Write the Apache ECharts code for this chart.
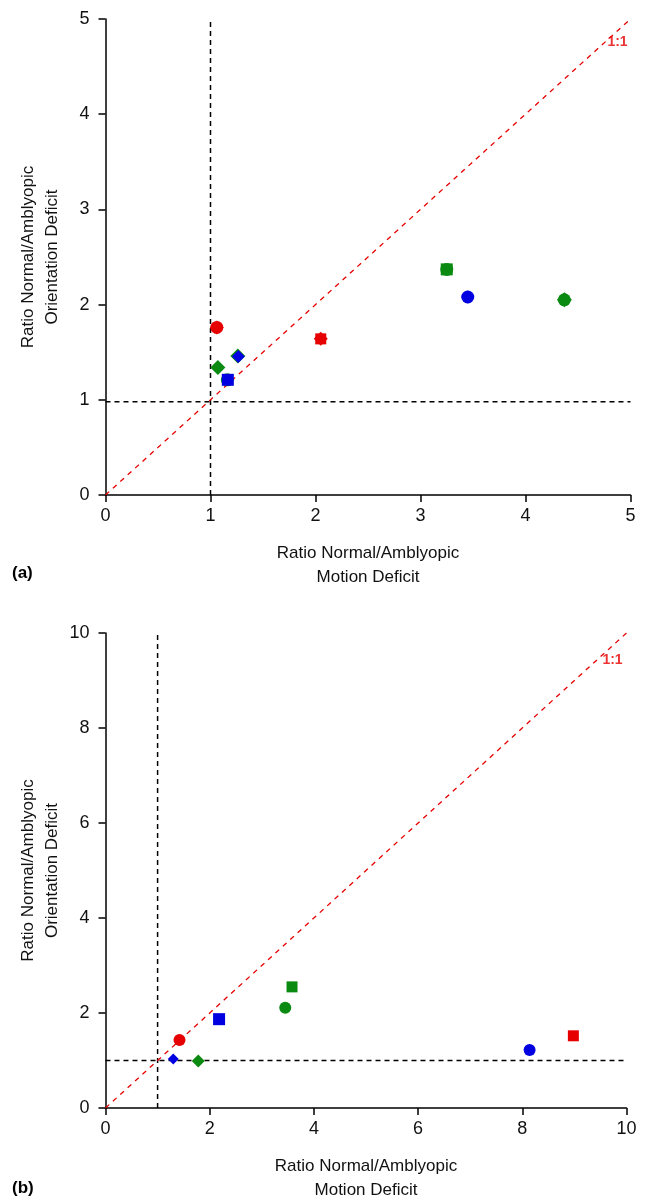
<!DOCTYPE html>
<html>
<head>
<meta charset="utf-8">
<script src="https://cdn.jsdelivr.net/npm/echarts@6/dist/echarts.min.js"></script>
<style>
  html, body { margin: 0; padding: 0; background: #fff; }
  #chart { width: 653px; height: 1203px; }
</style>
</head>
<body>
<div id="chart"></div>
<script>
// ---- Panel (a): motion vs orientation deficit ratios ----
const aRedCircle    = [[1.06, 1.76]];
const aRedDiamond   = [[1.06, 1.76], [2.05, 1.64]];
const aRedSquare    = [[2.05, 1.64]];
const aGreenCircle  = [[3.25, 2.37], [1.16, 1.21], [4.37, 2.05]];
const aGreenSquare  = [[3.25, 2.37]];
const aGreenDiamond = [[1.07, 1.34], [1.26, 1.46], [4.37, 2.05]];
const aBlueCircle   = [[3.45, 2.08]];
const aBlueDiamond  = [[3.45, 2.08], [1.265, 1.455]];
const aBlueSquare   = [[1.165, 1.21]];
const aTicks = [0, 1, 2, 3, 4, 5];
const aVLine = [[1, 0], [1, 5]];
const aHLine = [[0, 0.98], [5, 0.98]];
const aDiag  = [[0, 0], [5, 5]];

// ---- Panel (b) ----
const bRedCircle    = [[1.42, 1.43]];
const bRedSquare    = [[8.98, 1.52]];
const bGreenCircle  = [[3.45, 2.11]];
const bGreenSquare  = [[3.58, 2.55]];
const bGreenDiamond = [[1.78, 0.99]];
const bBlueCircle   = [[8.14, 1.22]];
const bBlueSquare   = [[2.18, 1.87]];
const bBlueDiamond  = [[1.30, 1.03]];
const bTicks = [0, 2, 4, 6, 8, 10];
const bVLine = [[1, 0], [1, 10]];
const bHLine = [[0, 1], [10, 1]];
const bDiag  = [[0, 0], [10, 10]];

const axisTitleX = 'Ratio Normal/Amblyopic\nMotion Deficit';
const axisTitleY = 'Ratio Normal/Amblyopic\nOrientation Deficit';
const unityLabel = '1:1';

const RED = '#e60000', GREEN = '#0b8a12', BLUE = '#0000e0';
const FONT = '"Liberation Sans", Arial, Helvetica, sans-serif';

function valueAxis(ticks, isX, gridIndex) {
  return {
    type: 'value',
    gridIndex: gridIndex,
    min: ticks[0],
    max: ticks[ticks.length - 1],
    interval: ticks[1] - ticks[0],
    name: isX ? axisTitleX : axisTitleY,
    nameLocation: 'middle',
    nameGap: isX ? 46 : 41,
    nameMoveOverlap: false,
    nameTextStyle: { fontFamily: FONT, fontSize: 17, color: '#111', lineHeight: 24, align: 'center' },
    axisLine: { show: true, onZero: false, lineStyle: { color: '#000', width: 1.5 } },
    axisTick: { show: true, inside: false, length: 7, lineStyle: { color: '#000', width: 1.5 } },
    axisLabel: { fontFamily: FONT, fontSize: 18, color: '#111', margin: isX ? 12 : 16 },
    splitLine: { show: false }
  };
}

function marks(data, shape, color, size, gi, z) {
  return {
    type: 'scatter', xAxisIndex: gi, yAxisIndex: gi, data: data,
    symbol: shape, symbolSize: size, z: z,
    itemStyle: { color: color, opacity: 1 },
    emphasis: { disabled: true }, silent: true
  };
}

function dashed(data, color, width, dash, gi) {
  return {
    type: 'line', xAxisIndex: gi, yAxisIndex: gi, data: data,
    showSymbol: false, symbol: 'none', z: 1, silent: true,
    lineStyle: { color: color, width: width, type: dash }
  };
}

function unity(point, gi, offset) {
  return {
    type: 'scatter', xAxisIndex: gi, yAxisIndex: gi, data: [point],
    symbolSize: 0, z: 2, silent: true,
    label: {
      show: true, formatter: unityLabel, position: offset,
      align: 'center', verticalAlign: 'middle',
      fontFamily: FONT, fontSize: 14, fontWeight: 'bold', color: RED
    }
  };
}

const chart = echarts.init(document.getElementById('chart'), null, { renderer: 'canvas' });
chart.setOption({
  animation: false,
  backgroundColor: '#fff',
  grid: [
    { left: 105.5, top: 19, width: 525, height: 476 },
    { left: 105.5, top: 633, width: 521, height: 475 }
  ],
  xAxis: [valueAxis(aTicks, true, 0), valueAxis(bTicks, true, 1)],
  yAxis: [valueAxis(aTicks, false, 0), valueAxis(bTicks, false, 1)],
  graphic: [
    { type: 'text', left: 12, top: 565, style: { text: '(a)', font: 'bold 17px ' + FONT, fill: '#000' } },
    { type: 'text', left: 12, top: 1180, style: { text: '(b)', font: 'bold 17px ' + FONT, fill: '#000' } }
  ],
  series: [
    dashed(aVLine, '#000', 1.5, [5, 4], 0),
    dashed(aHLine, '#000', 1.5, [5, 4], 0),
    dashed(aDiag, RED, 1.3, [5, 5], 0),
    unity(aDiag[1], 0, [-13, 23]),
    marks(aGreenCircle, 'circle', GREEN, 13, 0, 3),
    marks(aGreenSquare, 'rect', GREEN, 12, 0, 3),
    marks(aGreenDiamond, 'diamond', GREEN, 15, 0, 3),
    marks(aRedCircle, 'circle', RED, 13, 0, 4),
    marks(aRedSquare, 'rect', RED, 11, 0, 4),
    marks(aRedDiamond, 'diamond', RED, 14, 0, 4),
    marks(aBlueCircle, 'circle', BLUE, 13, 0, 5),
    marks(aBlueDiamond, 'diamond', BLUE, 13, 0, 5),
    marks(aBlueSquare, 'rect', BLUE, 12, 0, 5),

    dashed(bVLine, '#000', 1.5, [5, 4], 1),
    dashed(bHLine, '#000', 1.5, [5, 4], 1),
    dashed(bDiag, RED, 1.3, [5, 5], 1),
    unity(bDiag[1], 1, [-14, 27]),
    marks(bRedCircle, 'circle', RED, 12, 1, 4),
    marks(bRedSquare, 'rect', RED, 11, 1, 4),
    marks(bGreenCircle, 'circle', GREEN, 12, 1, 4),
    marks(bGreenSquare, 'rect', GREEN, 11, 1, 4),
    marks(bGreenDiamond, 'diamond', GREEN, 13, 1, 4),
    marks(bBlueCircle, 'circle', BLUE, 12, 1, 4),
    marks(bBlueSquare, 'rect', BLUE, 12, 1, 4),
    marks(bBlueDiamond, 'diamond', BLUE, 11, 1, 4)
  ]
});
</script>
</body>
</html>
